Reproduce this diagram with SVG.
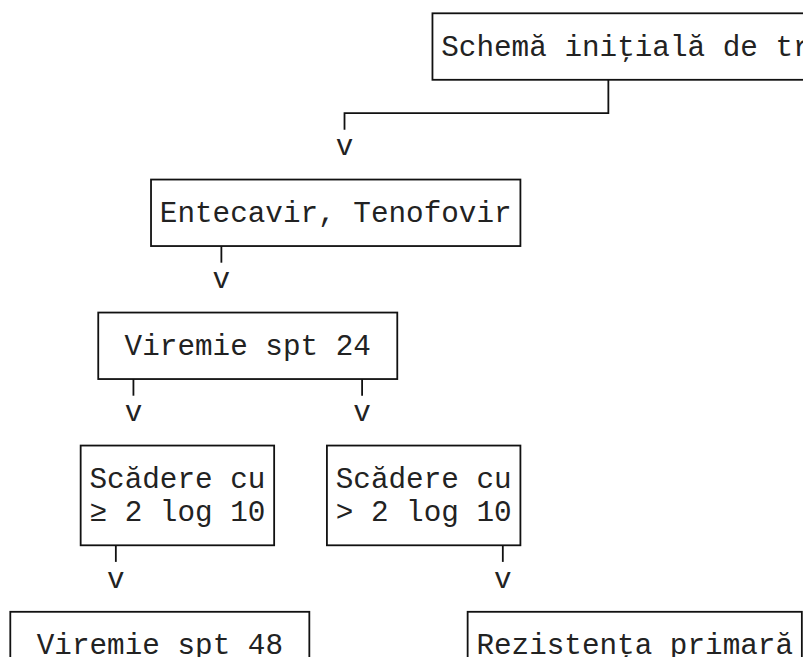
<svg xmlns="http://www.w3.org/2000/svg" width="803" height="657" viewBox="0 0 803 657">
<style>
.box{fill:#fff;stroke:#111;stroke-width:1.8}
.t{font-family:"Courier New",Courier,"Nimbus Mono PS","FreeMono","Liberation Mono",monospace;font-size:29.31px;fill:#222}
.c{fill:none;stroke:#111;stroke-width:1.8}
.v{font-family:"Courier New",Courier,"Nimbus Mono PS","FreeMono","Liberation Mono",monospace;font-size:29.31px;fill:#222;text-anchor:middle}
</style>
<rect width="803" height="657" fill="#fff"/>
<g id="connectors">
<path class="c" d="M608.36 79.8V113.05H344.51V129.7"/>
<path class="c" d="M221.38 246.05V262.7"/>
<path class="c" d="M133.43 379.05V395.7"/>
<path class="c" d="M362.1 379.05V395.7"/>
<path class="c" d="M115.84 545.3V561.9"/>
<path class="c" d="M502.82 545.3V561.9"/>
<text class="v" x="344.51" y="155.3">v</text>
<text class="v" x="221.38" y="288.3">v</text>
<text class="v" x="133.43" y="421.3">v</text>
<text class="v" x="362.1" y="421.3">v</text>
<text class="v" x="115.84" y="587.55">v</text>
<text class="v" x="502.82" y="587.55">v</text>
</g>
<g id="n1">
<rect class="box" x="432.46" y="13.3" width="420" height="66.5"/>
<text class="t" x="441.26" y="55.55" textLength="369.4" lengthAdjust="spacing">Schemă iniţială de tr</text>
</g>
<g id="n2">
<rect class="box" x="151.02" y="179.55" width="369.39" height="66.5"/>
<text class="t" x="159.8" y="221.8" textLength="351.8" lengthAdjust="spacing">Entecavir, Tenofovir</text>
</g>
<g id="n3">
<rect class="box" x="98.25" y="312.55" width="299.03" height="66.5"/>
<text class="t" x="124.6" y="354.8" textLength="246.3" lengthAdjust="spacing">Viremie spt 24</text>
</g>
<g id="n4">
<rect class="box" x="80.66" y="445.55" width="193.49" height="99.75"/>
<text class="t" x="89.45" y="487.8" textLength="175.9" lengthAdjust="spacing">Scădere cu</text>
<text class="t" x="89.45" y="521.05" textLength="175.9" lengthAdjust="spacing">≥ 2 log 10</text>
</g>
<g id="n5">
<rect class="box" x="326.92" y="445.55" width="193.49" height="99.75"/>
<text class="t" x="335.7" y="487.8" textLength="175.9" lengthAdjust="spacing">Scădere cu</text>
<text class="t" x="335.7" y="521.05" textLength="175.9" lengthAdjust="spacing">&gt; 2 log 10</text>
</g>
<g id="n6">
<rect class="box" x="10.3" y="611.8" width="299.03" height="66.5"/>
<text class="t" x="36.7" y="654.05" textLength="246.3" lengthAdjust="spacing">Viremie spt 48</text>
</g>
<g id="n7">
<rect class="box" x="467.64" y="611.8" width="334.21" height="66.5"/>
<text class="t" x="476.4" y="654.05" textLength="316.6" lengthAdjust="spacing">Rezistenţa primară</text>
</g>
</svg>
